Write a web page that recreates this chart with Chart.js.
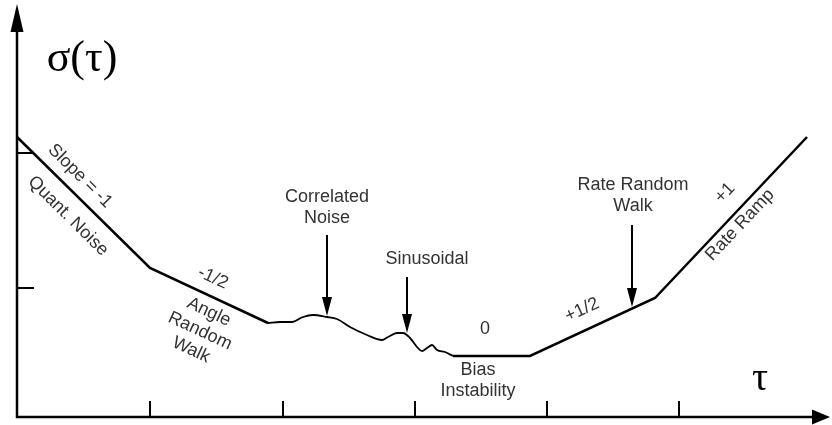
<!DOCTYPE html>
<html>
<head>
<meta charset="utf-8">
<script src="https://cdn.jsdelivr.net/npm/chart.js@4.4.1/dist/chart.umd.min.js"></script>
<style>
  html, body { margin: 0; padding: 0; background: #fff; }
  #wrap { width: 832px; height: 425px; }
</style>
</head>
<body>
<div id="wrap"><canvas id="allanChart" width="832" height="425"></canvas></div>
<script>
// Allan deviation sketch: sigma(tau) vs tau (arbitrary units)
const leftTau = [0, 133, 251];
const leftSigma = [280, 149, 94];
const bumpTau = [251, 263, 275, 286, 296, 310, 320, 333, 350, 365, 371, 380, 386, 393, 400, 405, 410, 415, 420, 428, 436];
const bumpSigma = [94, 95, 95, 100, 102, 100, 98, 90, 82, 77, 80, 84, 84, 79, 70, 66, 69, 72, 67, 65, 61];
const rightTau = [436, 513, 638, 790];
const rightSigma = [61, 61, 119, 280];
const tauTicks = [133, 266, 398, 530, 662];
const sigmaTicks = [129, 264];

// arrows pointing at features: tau, top sigma, tip sigma
const arrowTau = [310, 390, 615];
const arrowTop = [182, 140, 192];
const arrowTip = [101, 84, 110];

const toPoints = (xs, ys) => xs.map((v, i) => ({ x: v, y: ys[i] }));

// text annotations (position in data units, angle in degrees)
const labels = [
    { lines: ['Slope = -1'], x: 63, y: 241, angle: 44.8 },
    { lines: ['Quant. Noise'], x: 51, y: 201, angle: 44.8 },
    { lines: ['-1/2'], x: 196, y: 139, angle: 25 },
    { lines: ['Angle', 'Random', 'Walk'], x: 183, y: 86, angle: 25 },
    { lines: ['Correlated', 'Noise'], x: 310, y: 209, angle: 0 },
    { lines: ['Sinusoidal'], x: 410, y: 158, angle: 0 },
    { lines: ['0'], x: 468, y: 88, angle: 0 },
    { lines: ['Bias', 'Instability'], x: 461, y: 36, angle: 0 },
    { lines: ['+1/2'], x: 565, y: 107, angle: -25 },
    { lines: ['Rate Random', 'Walk'], x: 616, y: 221, angle: 0 },
    { lines: ['+1'], x: 708, y: 224, angle: -46.6 },
    { lines: ['Rate Ramp'], x: 723, y: 192, angle: -46.6 }
];

const overlay = {
    id: 'overlay',
    afterDatasetsDraw(chart) {
        const { ctx, scales: { x, y } } = chart;
        const px = v => x.getPixelForValue(v);
        const py = v => y.getPixelForValue(v);
        const ox = px(0), oy = py(0);
        ctx.save();
        ctx.strokeStyle = '#000';
        ctx.fillStyle = '#000';
        ctx.lineCap = 'butt';

        // axes with arrow heads
        ctx.lineWidth = 2.5;
        ctx.beginPath();
        ctx.moveTo(ox, py(390));
        ctx.lineTo(ox, oy);
        ctx.lineTo(px(800), oy);
        ctx.stroke();
        ctx.beginPath();
        ctx.moveTo(ox, py(413));
        ctx.lineTo(ox - 6.5, py(385));
        ctx.lineTo(ox + 6.5, py(385));
        ctx.closePath();
        ctx.fill();
        ctx.beginPath();
        ctx.moveTo(px(813), oy);
        ctx.lineTo(px(795), oy - 7.5);
        ctx.lineTo(px(795), oy + 7.5);
        ctx.closePath();
        ctx.fill();

        // ticks
        ctx.lineWidth = 2;
        ctx.beginPath();
        tauTicks.forEach(t => {
            ctx.moveTo(px(t), oy);
            ctx.lineTo(px(t), oy - 16);
        });
        sigmaTicks.forEach(s => {
            ctx.moveTo(ox, py(s));
            ctx.lineTo(ox + 17, py(s));
        });
        ctx.stroke();

        // feature arrows
        arrowTau.forEach((t, i) => {
            const ax = px(t), top = py(arrowTop[i]), tip = py(arrowTip[i]);
            ctx.lineWidth = 2;
            ctx.beginPath();
            ctx.moveTo(ax, top);
            ctx.lineTo(ax, tip - 14);
            ctx.stroke();
            ctx.beginPath();
            ctx.moveTo(ax, tip);
            ctx.lineTo(ax - 5, tip - 19);
            ctx.lineTo(ax + 5, tip - 19);
            ctx.closePath();
            ctx.fill();
        });

        // axis titles
        ctx.textAlign = 'center';
        ctx.textBaseline = 'middle';
        ctx.font = '44px "Liberation Serif", "DejaVu Serif", serif';
        ctx.fillText('σ(τ)', px(65), py(358));
        ctx.font = '40px "Liberation Serif", "DejaVu Serif", serif';
        ctx.fillText('τ', px(743), py(38));

        // annotations
        ctx.fillStyle = '#333';
        ctx.font = '18px "Liberation Sans", Arial, sans-serif';
        labels.forEach(l => {
            ctx.save();
            ctx.translate(px(l.x), py(l.y));
            ctx.rotate(l.angle * Math.PI / 180);
            const lh = 21;
            l.lines.forEach((s, i) => {
                ctx.fillText(s, 0, (i - (l.lines.length - 1) / 2) * lh);
            });
            ctx.restore();
        });
        ctx.restore();
    }
};

new Chart(document.getElementById('allanChart').getContext('2d'), {
    type: 'scatter',
    data: {
        datasets: [
            {
                label: 'Quant. noise / ARW',
                data: toPoints(leftTau, leftSigma),
                showLine: true,
                borderColor: '#000',
                borderWidth: 2.5,
                pointRadius: 0,
                tension: 0
            },
            {
                label: 'Correlated / sinusoidal',
                data: toPoints(bumpTau, bumpSigma),
                showLine: true,
                borderColor: '#000',
                borderWidth: 1.8,
                pointRadius: 0,
                cubicInterpolationMode: 'monotone'
            },
            {
                label: 'Bias / RRW / ramp',
                data: toPoints(rightTau, rightSigma),
                showLine: true,
                borderColor: '#000',
                borderWidth: 2.5,
                pointRadius: 0,
                tension: 0
            }
        ]
    },
    options: {
        responsive: false,
        animation: false,
        layout: { padding: 0 },
        plugins: {
            legend: { display: false },
            tooltip: { enabled: false }
        },
        scales: {
            x: { type: 'linear', min: -17, max: 815, display: false },
            y: { type: 'linear', min: -8, max: 417, display: false }
        }
    },
    plugins: [overlay]
});
</script>
</body>
</html>
